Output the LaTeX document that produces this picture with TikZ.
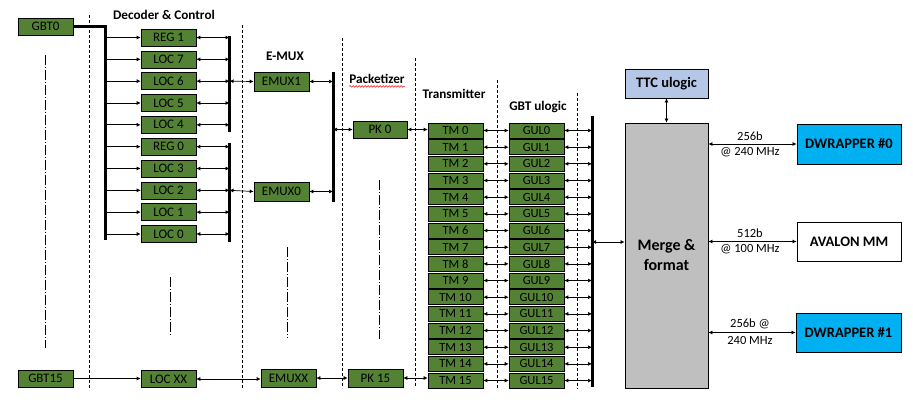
\documentclass[tikz,border=0pt]{standalone}
\usepackage{fontspec}
\setmainfont{Carlito}
\usetikzlibrary{arrows.meta,decorations.pathmorphing}

\definecolor{gbgreen}{HTML}{548235}
\definecolor{ttcblue}{HTML}{B4C7E7}
\definecolor{dwblue}{HTML}{00B0F0}
\definecolor{mergegray}{HTML}{BFBFBF}

\begin{document}
\begin{tikzpicture}[x=1pt,y=-1pt,
  blk/.style={draw=black, line width=0.6pt, fill=gbgreen, text=black,
    minimum width=55pt, minimum height=17pt, inner sep=0pt,
    font=\fontsize{13}{13}\selectfont},
  rowbox/.style={blk, minimum height=15pt, font=\fontsize{12.5}{12.5}\selectfont},
  title/.style={font=\fontsize{13.2}{13.2}\selectfont\bfseries, inner sep=0pt},
  bigbox/.style={draw=black, line width=0.8pt, inner sep=0pt,
    font=\fontsize{14.5}{14.5}\selectfont\bfseries},
  rate/.style={font=\fontsize{12.5}{12.5}\selectfont, inner sep=0pt},
  arr/.style={-{Latex[length=4pt,width=4pt]}, line width=0.7pt},
  darr/.style={{Latex[length=4pt,width=4pt]}-{Latex[length=4pt,width=4pt]}, line width=0.7pt},
  busline/.style={line width=3pt},
  sep/.style={line width=0.7pt, dash pattern=on 3pt off 2pt},
  gap/.style={line width=0.7pt, dash pattern=on 10pt off 2pt on 1pt off 2pt}]

\useasboundingbox (0,0) rectangle (913,399);

% column separators
\foreach \x/\a/\b in {89/15/390, 242/25/388, 342/38/388, 415/58/386, 497/80/389, 577/93/389}
  \draw[sep] (\x,\a) -- (\x,\b);

% elided channels
\draw[gap] (45,55) -- (45,348);
\draw[gap] (170,277) -- (170,335);
\draw[gap] (287,247) -- (287,338);
\draw[gap] (379,180) -- (379,339);

% column titles
\node[title] (tdec) at (164,15) {Decoder \& Control};
\node[title] (temux) at (285,56) {E-MUX};
\node[title] (tpack) at (377,79) {Packetizer};
\draw[red, line width=0.5pt, decorate,
  decoration={snake, amplitude=0.8pt, segment length=3pt}]
  ([yshift=-2.5pt]tpack.south west) -- ([yshift=-2.5pt]tpack.south east);
\node[title] (ttx) at (454,94) {Transmitter};
\node[title] (tgul) at (538,107) {GBT ulogic};

% GBT links
\node[blk] (gbt0) at (45.5,26.5) {GBT0};
\node[blk] (gbt15) at (45.5,378.5) {GBT15};

% decoder bus
\coordinate (bus) at (105,26.5);
\draw[busline, line join=miter] (gbt0.east) -- (bus) -- (105,240);

% decoder and control blocks
\coordinate (upbar) at (229.5,36);
\coordinate (lobar) at (229.5,143);
\draw[busline] (upbar) -- (229.5,132);
\draw[busline] (lobar) -- (229.5,242);
\foreach \lab [count=\i from 0] in {REG 1, LOC 7, LOC 6, LOC 5, LOC 4, REG 0, LOC 3, LOC 2, LOC 1, LOC 0} {
  \node[blk] (d\i) at (168.5,37.5+21.83*\i) {\lab};
  \draw[arr] (d\i.west -| bus) -- (d\i.west);
  \draw[darr] (d\i.east) -- (d\i.east -| upbar);
}
\node[blk] (locxx) at (168.5,379) {LOC XX};
\draw[arr] (gbt15.east) -- (gbt15.east -| locxx.west);

% e-mux
\node[blk, minimum height=19pt] (emux1) at (281.5,81.5) {EMUX1};
\node[blk, minimum height=19pt] (emux0) at (281.5,191.5) {EMUX0};
\node[blk, minimum height=18pt] (emuxx) at (288.5,378) {EMUXX};
\draw[darr] (d2.east -| upbar) -- (emux1.west);
\draw[darr] (d7.east -| lobar) -- (emux0.west);
\draw[darr] (locxx.east) -- (locxx.east -| emuxx.west);

\coordinate (ebar) at (333,72);
\draw[busline] (ebar) -- (333,202);
\draw[darr] (emux1.east) -- (emux1.east -| ebar);
\draw[darr] (emux0.east) -- (emux0.east -| ebar);

% packetizer
\node[blk, minimum width=54pt] (pk0) at (380,129.5) {PK 0};
\node[blk, minimum height=18pt] (pk15) at (375.5,378) {PK 15};
\draw[darr] (pk0.west -| ebar) -- (pk0.west);
\draw[darr] (emuxx.east) -- (emuxx.east -| pk15.west);

% transmitters and GBT ulogic
\coordinate (mbar) at (592,116);
\draw[busline] (mbar) -- (592,387);
\foreach \i in {0,...,15} {
  \node[rowbox] (tm\i) at (455.5,130.5+16.67*\i) {TM \i};
  \node[rowbox] (gul\i) at (536.5,130.5+16.67*\i) {GUL\i};
  \draw[darr] (tm\i.east) -- (gul\i.west);
  \draw[darr] (gul\i.east) -- (gul\i.east -| mbar);
}
\draw[darr] (pk0.east) -- (pk0.east -| tm0.west);
\draw[darr] (pk15.east) -- (pk15.east -| tm15.west);

% merge stage
\node[bigbox, fill=mergegray, minimum width=83pt, minimum height=265pt,
  align=center, font=\fontsize{16}{20}\selectfont\bfseries]
  (merge) at (666.5,255.5) {Merge \&\\format};
\node[bigbox, fill=ttcblue, minimum width=83pt, minimum height=29pt]
  (ttc) at (666.5,83.5) {TTC ulogic};
\draw[darr] (ttc.south) -- (ttc.south |- merge.north);
\coordinate (mport) at (592,242);
\draw[darr] (mport) -- (mport -| merge.west);

% outputs
\node[bigbox, fill=dwblue, minimum width=104pt, minimum height=40pt]
  (dw0) at (849,144) {DWRAPPER \#0};
\node[bigbox, fill=white, minimum width=104pt, minimum height=39pt]
  (avalon) at (849,241.5) {AVALON MM};
\node[bigbox, fill=dwblue, minimum width=105pt, minimum height=39pt]
  (dw1) at (848.5,332.5) {DWRAPPER \#1};
\draw[darr] (dw0.west -| merge.east) -- (dw0.west);
\draw[darr] (avalon.west -| merge.east) -- (avalon.west);
\draw[darr] (dw1.west -| merge.east) -- (dw1.west);

\node[rate] (r0a) at (750,136) {256b};
\node[rate] (r0b) at (750,152.5) {@ 240 MHz};
\node[rate] (r1a) at (750,233) {512b};
\node[rate] (r1b) at (750,249.5) {@ 100 MHz};
\node[rate] (r2a) at (750,324) {256b @};
\node[rate] (r2b) at (750,340.5) {240 MHz};

\end{tikzpicture}
\end{document}
